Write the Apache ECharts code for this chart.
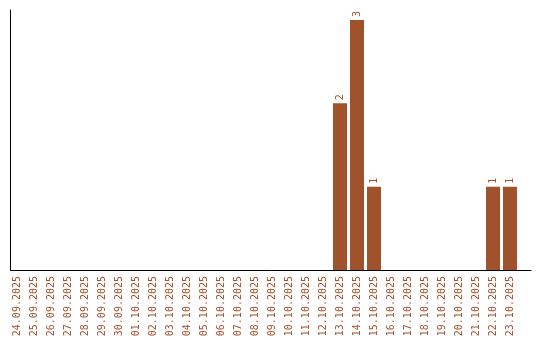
<!DOCTYPE html>
<html><head><meta charset="utf-8">
<script src="https://cdn.jsdelivr.net/npm/echarts@6/dist/echarts.min.js"></script>
<style>html,body{margin:0;padding:0;background:#fff}#c{width:540px;height:340px}</style>
</head><body><div id="c"></div>
<script>
const categories = ["24.09.2025","25.09.2025","26.09.2025","27.09.2025","28.09.2025","29.09.2025","30.09.2025","01.10.2025","02.10.2025","03.10.2025","04.10.2025","05.10.2025","06.10.2025","07.10.2025","08.10.2025","09.10.2025","10.10.2025","11.10.2025","12.10.2025","13.10.2025","14.10.2025","15.10.2025","16.10.2025","17.10.2025","18.10.2025","19.10.2025","20.10.2025","21.10.2025","22.10.2025","23.10.2025"];
const values = [0,0,0,0,0,0,0,0,0,0,0,0,0,0,0,0,0,0,0,2,3,1,0,0,0,0,0,0,1,1];
const yMax = 3.12;
const textColor = '#A0522D';
const chart = echarts.init(document.getElementById('c'));
chart.setOption({
  animation: false,
  grid: [
    {left: 8.5, width: 510, top: 10, bottom: 70, containLabel: false},
    {left: 10.5, right: 9, top: 10, bottom: 70, containLabel: false}
  ],
  xAxis: [{
    gridIndex: 0, type: 'category', data: categories,
    axisLine: {show: false},
    axisTick: {show: false},
    axisLabel: {rotate: 90, interval: 0, margin: 6, color: textColor, fontFamily: 'DejaVu Sans Mono', fontSize: 10}
  }, {
    gridIndex: 1, type: 'value', min: 0, max: 1,
    axisLine: {show: true, onZero: false, lineStyle: {color: '#000', width: 1}},
    axisTick: {show: false}, axisLabel: {show: false}, splitLine: {show: false}
  }],
  yAxis: [{
    gridIndex: 0, type: 'value', min: 0, max: yMax, show: false
  }, {
    gridIndex: 1, type: 'value', min: 0, max: yMax,
    axisLine: {show: true, lineStyle: {color: '#000', width: 1}},
    axisTick: {show: false}, axisLabel: {show: false}, splitLine: {show: false}
  }],
  series: [{
    type: 'bar', xAxisIndex: 0, yAxisIndex: 0,
    data: values.map(v => v === 0 ? null : v), barWidth: 14,
    itemStyle: {color: '#A0522D'},
    label: {show: true, position: 'top', rotate: 90, align: 'left', verticalAlign: 'middle', distance: 3,
      color: textColor, fontFamily: 'DejaVu Sans Mono', fontSize: 10}
  }]
});
</script></body></html>
